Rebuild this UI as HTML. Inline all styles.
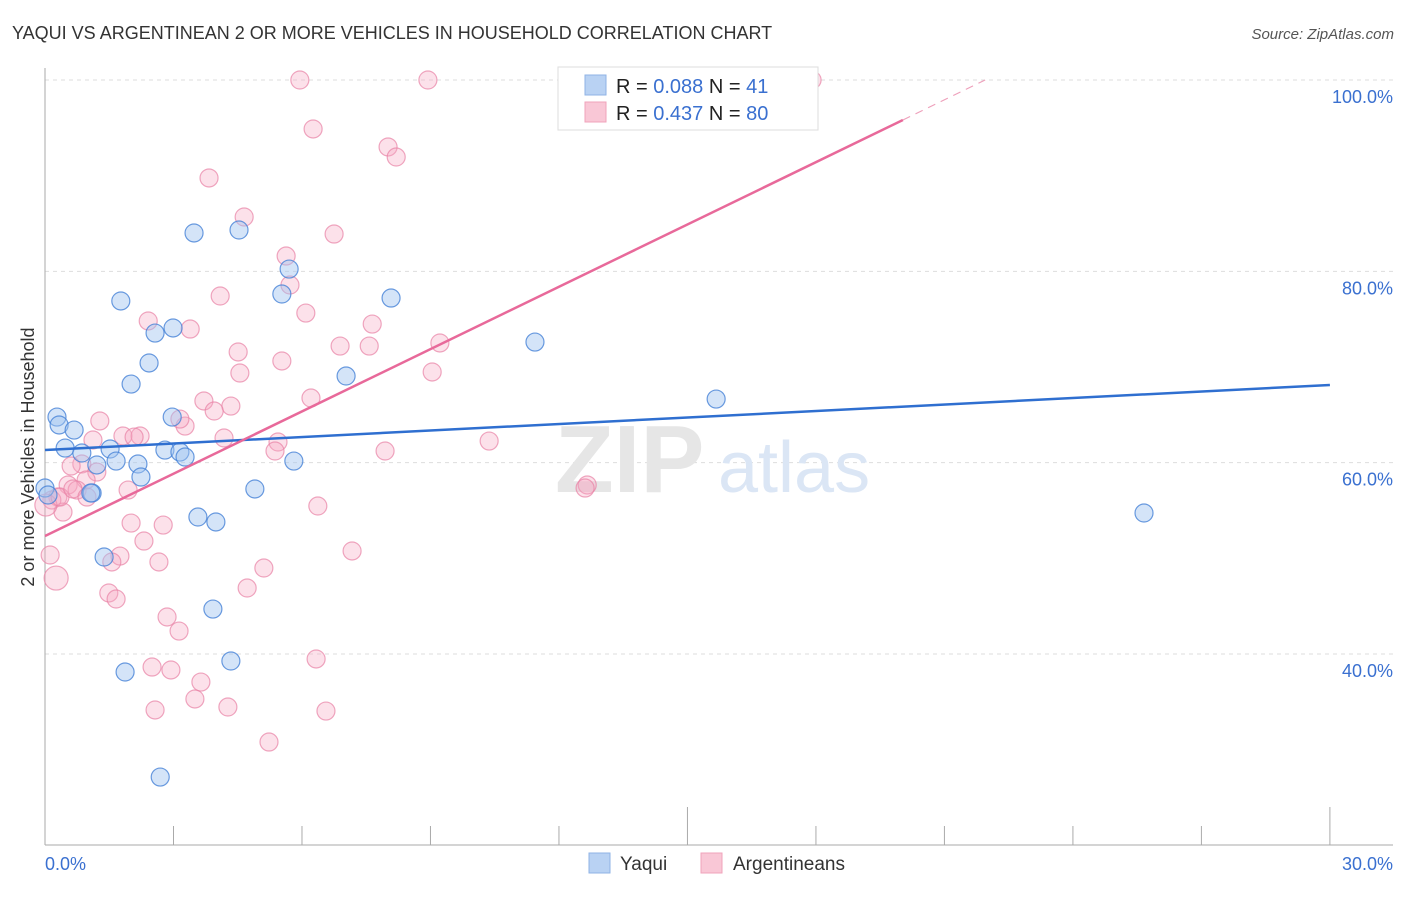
<!DOCTYPE html>
<html><head><meta charset="utf-8">
<style>
body{margin:0;background:#fff;font-family:"Liberation Sans",sans-serif;}
svg text{font-family:"Liberation Sans",sans-serif;}
</style></head>
<body>
<svg id="chart" width="1406" height="892" viewBox="0 0 1406 892" xmlns="http://www.w3.org/2000/svg">
<text x="12" y="39" font-size="18" fill="#333">YAQUI VS ARGENTINEAN 2 OR MORE VEHICLES IN HOUSEHOLD CORRELATION CHART</text>
<text x="1394" y="39" font-size="15" fill="#555" text-anchor="end" font-style="italic">Source: ZipAtlas.com</text>
<g id="grid"></g>
<g>
<text x="555" y="492" font-size="96" fill="#e6e6e6" font-family="Liberation Serif" font-weight="bold">ZIP</text>
<text x="718" y="492" font-size="72" fill="#dbe6f5">atlas</text>
</g>
<g id="axes"></g>
<g id="pts"></g>
<g id="trends"></g>
<text transform="translate(34,457) rotate(-90)" font-size="18" fill="#333" text-anchor="middle">2 or more Vehicles in Household</text>
<g>
<rect x="558" y="67" width="260" height="63" fill="#fff" stroke="#ddd"/>
<rect x="585" y="75" width="21" height="20" fill="#b9d2f3" stroke="#8fb3e6"/>
<rect x="585" y="102" width="21" height="20" fill="#f9c7d6" stroke="#f0a3bb"/>
<text x="616" y="93" font-size="20" fill="#222">R = <tspan fill="#3a70d0">0.088</tspan>   N =  <tspan fill="#3a70d0">41</tspan></text>
<text x="616" y="120" font-size="20" fill="#222">R = <tspan fill="#3a70d0">0.437</tspan>   N = <tspan fill="#3a70d0">80</tspan></text>
</g>
<g>
<rect x="589" y="853" width="21" height="20" fill="#b9d2f3" stroke="#8fb3e6"/>
<text x="620" y="870" font-size="19" fill="#333">Yaqui</text>
<rect x="701" y="853" width="21" height="20" fill="#f9c7d6" stroke="#f0a3bb"/>
<text x="733" y="870" font-size="19" fill="#333">Argentineans</text>
</g>
</svg>
<script>
const yaquiX=[0.28,0.33,0.47,0.68,0.86,1.21,1.52,1.66,1.10,1.77,2.01,2.17,2.24,2.57,2.43,2.99,2.97,2.80,3.15,3.27,3.48,4.53,5.70,5.53,8.08,7.03,5.81,4.90,3.57,3.99,3.92,4.34,1.87,1.38,2.69,11.44,15.67,25.66,0.0,1.07,0.07];
const yaquiY=[64.77,63.94,61.53,63.41,61.01,59.76,61.43,60.17,56.83,76.90,68.22,59.86,58.50,73.55,70.42,74.08,64.77,61.32,61.11,60.59,84.01,84.32,80.24,77.63,77.21,69.06,60.17,57.25,54.32,53.80,44.70,39.27,38.12,50.14,27.14,72.61,66.65,54.74,57.35,56.83,56.62];
const argX=[5.95,8.94,17.91,6.26,8.01,8.20,3.83,4.65,6.75,5.63,5.72,4.09,6.09,2.41,3.39,7.64,6.89,7.57,4.51,5.53,4.55,9.04,9.22,6.21,3.71,4.34,3.95,1.28,3.27,3.15,1.82,2.22,2.08,1.12,4.18,5.44,5.37,7.94,10.37,0.86,0.61,1.21,0.96,0.54,0.75,1.94,0.30,0.16,0.42,6.37,2.01,2.76,2.31,1.75,1.56,2.66,7.17,5.11,0.26,1.49,1.66,4.72,2.85,3.13,2.50,2.94,3.64,3.50,2.57,4.27,6.33,6.56,5.23,12.66,12.61,0.02,0.35,0.65,0.12,0.98];
const argY=[100,100,100,94.88,93.00,91.95,89.76,85.68,83.90,81.60,78.57,77.42,75.64,74.81,73.97,74.49,72.19,72.19,71.57,70.63,69.37,69.48,72.51,66.76,66.45,65.92,65.40,64.36,63.83,64.56,62.79,62.79,62.68,62.37,62.58,62.16,61.22,61.22,62.26,59.86,59.65,59.02,58.19,57.67,57.14,57.14,56.41,56.10,54.84,55.47,53.69,53.48,51.81,50.24,49.62,49.62,50.77,48.99,47.94,46.38,45.75,46.90,43.87,42.40,38.64,38.33,37.07,35.30,34.15,34.46,39.48,34.04,30.80,57.67,57.35,55.57,56.41,57.25,50.35,56.41];
const argR=[9,9,9,9,9,9,9,9,9,9,9,9,9,9,9,9,9,9,9,9,9,9,9,9,9,9,9,9,9,9,9,9,9,9,9,9,9,9,9,9,9,9,9,9,9,9,9,9,9,9,9,9,9,9,9,9,9,9,12,9,9,9,9,9,9,9,9,9,9,9,9,9,9,9,9,11,9,9,9,9];
const yTicks=[40,60,80,100];
const yTickLabels=["40.0%","60.0%","80.0%","100.0%"];
const xTicks=[0,3,6,9,12,15,18,21,24,27,30];
const yaquiTrend=[[0,61.32],[30,68.12]];
const argTrend=[[0,52.33],[20.03,95.82]];
const argTrendDash=[[20.03,95.82],[21.95,100]];

const NS="http://www.w3.org/2000/svg";
const X=v=>45+v*42.83;
const Y=v=>80+(100-v)*9.567;
function mk(t,a,p){const e=document.createElementNS(NS,t);for(const k in a)e.setAttribute(k,a[k]);p.appendChild(e);return e;}
const grid=document.getElementById('grid'),axes=document.getElementById('axes'),pts=document.getElementById('pts'),tr=document.getElementById('trends');
yTicks.forEach((t,i)=>{
  const l=mk('line',{x1:45,x2:1393,y1:Y(t),y2:Y(t),stroke:'#ddd','stroke-dasharray':'4,4'},grid);
  
  
  const tx=mk('text',{x:1393,y:Y(t)+23,'font-size':18,fill:'#3a70d0','text-anchor':'end'},axes);
  tx.textContent=yTickLabels[i];
  
  
});
let a=mk('line',{x1:45,x2:45,y1:68,y2:845,stroke:'#aaa'},axes);


a=mk('line',{x1:45,x2:1393,y1:845,y2:845,stroke:'#aaa'},axes);


xTicks.forEach((t,i)=>{
  const big=(t===15||t===30);
  const l=mk('line',{x1:X(t),x2:X(t),y1:big?807:826,y2:845,stroke:'#aaa'},axes);
  
  
});
let xl=mk('text',{x:45,y:870,'font-size':18,fill:'#3a70d0'},axes);xl.textContent='0.0%';


xl=mk('text',{x:1393,y:870,'font-size':18,fill:'#3a70d0','text-anchor':'end'},axes);xl.textContent='30.0%';


argX.forEach((v,i)=>{
  const c=mk('circle',{cx:X(v),cy:Y(argY[i]),r:argR[i],fill:'rgba(246,170,195,0.35)',stroke:'rgba(232,130,165,0.7)','stroke-width':1.2},pts);
  
  
});
yaquiX.forEach((v,i)=>{
  const c=mk('circle',{cx:X(v),cy:Y(yaquiY[i]),r:9,fill:'rgba(160,195,240,0.45)',stroke:'rgba(70,130,215,0.8)','stroke-width':1.2},pts);
  
  
});
let t=mk('line',{x1:X(yaquiTrend[0][0]),y1:Y(yaquiTrend[0][1]),x2:X(yaquiTrend[1][0]),y2:Y(yaquiTrend[1][1]),stroke:'#2f6fd0','stroke-width':2.5},tr);


t=mk('line',{x1:X(argTrend[0][0]),y1:Y(argTrend[0][1]),x2:X(argTrend[1][0]),y2:Y(argTrend[1][1]),stroke:'#e8699a','stroke-width':2.5},tr);


t=mk('line',{x1:X(argTrendDash[0][0]),y1:Y(argTrendDash[0][1]),x2:X(argTrendDash[1][0]),y2:Y(argTrendDash[1][1]),stroke:'#eea0bb','stroke-width':1.2,'stroke-dasharray':'8,6'},tr);


</script>
</body></html>
